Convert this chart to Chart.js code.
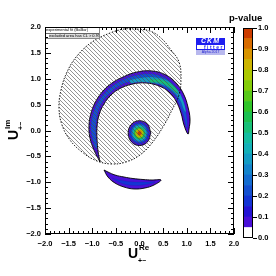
<!DOCTYPE html>
<html>
<head>
<meta charset="utf-8">
<script src="https://cdn.jsdelivr.net/npm/chart.js@4.4.0/dist/chart.umd.min.js"></script>
<style>
  html, body { margin: 0; padding: 0; background: #fff; }
  #wrap { position: relative; width: 276px; height: 276px; overflow: hidden; font-family: "Liberation Sans", Arial, sans-serif; }
  canvas { position: absolute; left: 0; top: 0; }
  .t { position: absolute; font-weight: bold; white-space: nowrap; line-height: 1; color: #000; }
  .ttl { position: absolute; width: 24px; height: 20px; }
  .ttl span { position: absolute; font-weight: bold; white-space: nowrap; }
</style>
</head>
<body>
<div id="wrap">
  <canvas id="main" width="276" height="276"></canvas>
  <canvas id="cbar" width="276" height="276"></canvas>

  <div class="t" style="left:229px;top:13px;font-size:9.5px;">p-value</div>

  <!-- axis titles -->
  <div class="ttl" style="left:128px;top:246px;">
    <span style="left:0;top:0;font-size:14px;line-height:14px;">U</span>
    <span style="left:11px;top:-2px;font-size:8px;line-height:8px;">Re</span>
    <span style="left:10px;top:11px;font-size:7px;line-height:7px;">+&minus;</span>
  </div>
  <div class="ttl" style="left:6px;top:140px;transform:rotate(-90deg);transform-origin:0 0;">
    <span style="left:0;top:0;font-size:14px;line-height:14px;">U</span>
    <span style="left:11px;top:-2px;font-size:8px;line-height:8px;">Im</span>
    <span style="left:10px;top:11px;font-size:7px;line-height:7px;">+&minus;</span>
  </div>

  <!-- small legend box -->
  <div style="position:absolute;left:46px;top:28px;width:53px;font-size:4px;line-height:4.5px;white-space:nowrap;overflow:hidden;border-right:0.5px solid #888;border-bottom:0.5px solid #888;">
    <div style="background:#fff;border-bottom:0.5px solid #666;">experimental fit (BaBar)</div>
    <div style="background:#ddd;margin-left:3px;">excluded area has CL &gt; 0.95</div>
  </div>

  <!-- CKMfitter logo -->
  <div style="position:absolute;left:196px;top:38px;width:29px;">
    <div style="background:#1e1ef0;height:6px;color:#fff;font:italic bold 7px/6px 'Liberation Sans';text-align:center;letter-spacing:1px;">CKM</div>
    <div style="background:#fff;border:1px solid #1e1ef0;height:4px;color:#1e1ef0;font:bold 5px/4px 'Liberation Sans';letter-spacing:1.5px;text-align:right;">fitter</div>
    <div style="background:#b8b8ee;height:5px;color:#2424d0;font:3.5px/5px 'Liberation Sans';text-align:center;">Alpha 2017</div>
  </div>
</div>

<script>
// p-value colour scale (bin edges and their colours)
const pEdges = [0, 0.05, 0.1, 0.15, 0.2, 0.25, 0.3, 0.35, 0.4, 0.45, 0.5, 0.55, 0.6, 0.65, 0.7, 0.75, 0.8, 0.85, 0.9, 0.95, 1.0];
const pTicks = [0, 0.1, 0.2, 0.3, 0.4, 0.5, 0.6, 0.7, 0.8, 0.9, 1.0];
const paletteColors = ['#ffffff', '#4a10d8', '#2414d4', '#1434d4', '#1450d0', '#146cd0', '#1484cc', '#149cc4',
  '#14b0b8', '#14bca0', '#18c078', '#1cc050', '#30c428', '#58c818', '#84cc08', '#acc800',
  '#ccb400', '#d89400', '#d86c00', '#cc3c00'];

// axis ticks
const xTicks = [-2, -1.5, -1, -0.5, 0, 0.5, 1, 1.5, 2];
const yTicks = [-2, -1.5, -1, -0.5, 0, 0.5, 1, 1.5, 2];

// excluded region (CL > 0.95), hatched
const excludedRegion = [[-0.053, 1.961], [0.222, 1.923], [0.455, 1.787], [0.667, 1.556], [0.836, 1.324], [0.878, 1.014],
  [0.836, 0.686], [0.688, 0.396], [0.497, 0.068], [0.265, -0.242], [0.011, -0.473], [-0.286, -0.609],
  [-0.582, -0.647], [-0.899, -0.589], [-1.217, -0.415], [-1.471, -0.184], [-1.640, 0.106], [-1.704, 0.435],
  [-1.661, 0.783], [-1.534, 1.130], [-1.323, 1.440], [-1.005, 1.710], [-0.624, 1.884], [-0.328, 1.961]];

// large arc: contour levels
const arcLevels = [0.07, 0.22, 0.36, 0.5];
const arcOuter = [[-0.836, -0.609], [-0.963, -0.377], [-1.048, -0.145], [-1.069, 0.087], [-1.026, 0.338], [-0.921, 0.570],
  [-0.772, 0.763], [-0.582, 0.918], [-0.349, 1.034], [-0.053, 1.130], [0.265, 1.150], [0.561, 1.072],
  [0.794, 0.899], [0.942, 0.686], [1.026, 0.454], [1.069, 0.222], [1.048, 0.029], [1.026, -0.068],
  [0.942, 0.106], [0.878, 0.338], [0.772, 0.570], [0.624, 0.744], [0.413, 0.860], [0.138, 0.918],
  [-0.138, 0.899], [-0.392, 0.821], [-0.603, 0.686], [-0.751, 0.512], [-0.857, 0.300], [-0.899, 0.068],
  [-0.899, -0.164], [-0.878, -0.396]];
const arcBand2 = [[-0.942, -0.338], [-1.005, -0.126], [-1.026, 0.087], [-0.984, 0.319], [-0.878, 0.551], [-0.730, 0.725],
  [-0.540, 0.879], [-0.307, 0.995], [-0.032, 1.072], [0.265, 1.092], [0.540, 1.014], [0.751, 0.860],
  [0.878, 0.647], [0.963, 0.435], [1.005, 0.222], [1.005, 0.048], [0.984, 0.087], [0.942, 0.261],
  [0.857, 0.473], [0.751, 0.667], [0.582, 0.802], [0.370, 0.899], [0.116, 0.957], [-0.138, 0.957],
  [-0.392, 0.879], [-0.603, 0.744], [-0.772, 0.570], [-0.878, 0.357], [-0.921, 0.106], [-0.921, -0.126],
  [-0.899, -0.338]];
const arcBand3 = [[-0.201, 0.976], [0.074, 1.024], [0.349, 1.024], [0.603, 0.957], [0.794, 0.802], [0.921, 0.589],
  [0.984, 0.357], [0.942, 0.396], [0.857, 0.589], [0.709, 0.763], [0.519, 0.870], [0.265, 0.918],
  [0.011, 0.937], [-0.201, 0.918]];
const arcBand4 = [[0.222, 0.995], [0.476, 0.976], [0.688, 0.879], [0.815, 0.744], [0.772, 0.725], [0.603, 0.860],
  [0.392, 0.928], [0.222, 0.937]];

// lower crescent
const lowLevels = [0.07, 0.17];
const lowOuter = [[-0.751, -0.763], [-0.667, -0.899], [-0.519, -1.015], [-0.328, -1.092], [-0.116, -1.130], [0.116, -1.111],
  [0.307, -1.053], [0.455, -0.957], [0.265, -0.957], [0.074, -0.947], [-0.138, -0.928], [-0.328, -0.899],
  [-0.519, -0.860], [-0.667, -0.802]];
const lowInner = [[-0.582, -0.918], [-0.370, -1.024], [-0.116, -1.063], [0.138, -1.043], [0.328, -0.995], [0.138, -0.995],
  [-0.116, -0.995], [-0.370, -0.966]];

// central peak, rings from outside to inside
const peakLevels = [0.07, 0.17, 0.28, 0.42, 0.58, 0.75, 0.88, 0.97];
const peakRings = [
  [[0.24, -0.05], [0.17, 0.12], [0, 0.19], [-0.17, 0.12], [-0.24, -0.05], [-0.17, -0.22], [0, -0.29], [0.17, -0.22]],
  [[0.205, -0.05], [0.145, 0.095], [0, 0.155], [-0.145, 0.095], [-0.205, -0.05], [-0.145, -0.195], [0, -0.255], [0.145, -0.195]],
  [[0.175, -0.05], [0.124, 0.074], [0, 0.125], [-0.124, 0.074], [-0.175, -0.05], [-0.124, -0.174], [0, -0.225], [0.124, -0.174]],
  [[0.15, -0.05], [0.106, 0.056], [0, 0.1], [-0.106, 0.056], [-0.15, -0.05], [-0.106, -0.156], [0, -0.2], [0.106, -0.156]],
  [[0.12, -0.05], [0.085, 0.035], [0, 0.07], [-0.085, 0.035], [-0.12, -0.05], [-0.085, -0.135], [0, -0.17], [0.085, -0.135]],
  [[0.09, -0.05], [0.064, 0.014], [0, 0.04], [-0.064, 0.014], [-0.09, -0.05], [-0.064, -0.114], [0, -0.14], [0.064, -0.114]],
  [[0.06, -0.05], [0.042, -0.008], [0, 0.01], [-0.042, -0.008], [-0.06, -0.05], [-0.042, -0.092], [0, -0.11], [0.042, -0.092]],
  [[0.035, -0.05], [0.025, -0.025], [0, -0.015], [-0.025, -0.025], [-0.035, -0.05], [-0.025, -0.075], [0, -0.085], [0.025, -0.075]]
];

function pColor(p) {
  return paletteColors[Math.min(paletteColors.length - 1, Math.floor(p / 0.05))];
}

function fmt(v) {
  return (v < -1e-9 ? '\u2212' : '') + Math.abs(v).toFixed(1);
}

// hatch pattern for the excluded region
const hatch = document.createElement('canvas');
hatch.width = 4; hatch.height = 4;
const hc = hatch.getContext('2d');
hc.strokeStyle = '#4a4a4a';
hc.lineWidth = 0.6;
hc.beginPath();
hc.moveTo(-1, -1); hc.lineTo(5, 5);
hc.moveTo(-1, 3); hc.lineTo(1, 5);
hc.moveTo(3, -1); hc.lineTo(5, 1);
hc.stroke();
const hatchFill = hc.createPattern(hatch, 'repeat');

function contour(points, p, edge) {
  return {
    data: points.concat([points[0]]).map(pt => ({ x: pt[0], y: pt[1] })),
    backgroundColor: pColor(p),
    borderColor: edge ? '#000' : 'rgba(0,0,0,0.15)',
    borderWidth: edge ? 0.9 : 0.4,
    fill: 'shape',
    tension: 0.4,
    pointRadius: 0
  };
}

// back to front
var layers = [];
layers.push(contour(arcOuter, arcLevels[0], true));
layers.push(contour(arcBand2, arcLevels[1], false));
layers.push(contour(arcBand3, arcLevels[2], false));
layers.push(contour(arcBand4, arcLevels[3], false));
layers.push(contour(lowOuter, lowLevels[0], true));
layers.push(contour(lowInner, lowLevels[1], false));
peakRings.forEach((ring, i) => layers.push(contour(ring, peakLevels[i], i === 0)));
layers.push({
  data: excludedRegion.concat([excludedRegion[0]]).map(pt => ({ x: pt[0], y: pt[1] })),
  backgroundColor: hatchFill,
  borderColor: '#000',
  borderWidth: 0.9,
  borderDash: [1.5, 1.5],
  fill: 'shape',
  tension: 0.4,
  pointRadius: 0
});
layers.forEach((d, i) => { d.order = -i; });

const tickFont = { family: 'Liberation Sans', size: 7.5, weight: 'bold' };

// frame with inward ticks on all four sides
const frameTicks = {
  id: 'frameTicks',
  afterDatasetsDraw(chart) {
    const { ctx, chartArea: a, scales: { x, y } } = chart;
    ctx.save();
    ctx.strokeStyle = '#000';
    ctx.lineWidth = 1;
    ctx.strokeRect(a.left + 0.5, a.top + 0.5, a.right - a.left - 1, a.bottom - a.top - 1);
    ctx.beginPath();
    for (let i = -20; i <= 20; i++) {
      const v = i / 10;
      const len = i % 5 === 0 ? 6 : 3;
      const px = Math.round(x.getPixelForValue(v)) + 0.5;
      ctx.moveTo(px, a.bottom); ctx.lineTo(px, a.bottom - len);
      ctx.moveTo(px, a.top); ctx.lineTo(px, a.top + len);
      const py = Math.round(y.getPixelForValue(v)) + 0.5;
      ctx.moveTo(a.left, py); ctx.lineTo(a.left + len, py);
      ctx.moveTo(a.right, py); ctx.lineTo(a.right - len, py);
    }
    ctx.stroke();
    ctx.restore();
  }
};

new Chart(document.getElementById('main'), {
  type: 'line',
  data: { datasets: layers },
  options: {
    responsive: false,
    animation: false,
    layout: { padding: { left: 0, top: 27, right: 42, bottom: 0 } },
    plugins: { legend: { display: false }, tooltip: { enabled: false } },
    scales: {
      x: {
        type: 'linear', min: -2, max: 2,
        grid: { display: false, drawTicks: false },
        border: { display: false },
        afterBuildTicks: s => { s.ticks = xTicks.map(v => ({ value: v })); },
        ticks: { font: tickFont, color: '#000', padding: 5, maxRotation: 0, autoSkip: false, callback: fmt },
        afterFit: s => { s.height = 42; }
      },
      y: {
        type: 'linear', min: -2, max: 2,
        grid: { display: false, drawTicks: false },
        border: { display: false },
        afterBuildTicks: s => { s.ticks = yTicks.map(v => ({ value: v })); },
        ticks: { font: tickFont, color: '#000', padding: 4, autoSkip: false, callback: fmt },
        afterFit: s => { s.width = 45; }
      }
    }
  },
  plugins: [frameTicks]
});

// colour bar
const barOutline = {
  id: 'barOutline',
  afterDatasetsDraw(chart) {
    const { ctx, chartArea: a } = chart;
    ctx.save();
    ctx.strokeStyle = '#000';
    ctx.lineWidth = 1;
    ctx.strokeRect(a.left + 0.5, a.top + 0.5, a.right - a.left - 1, a.bottom - a.top - 1);
    ctx.restore();
  }
};

var barSets = [];
for (let i = 0; i < paletteColors.length; i++) {
  barSets.push({ data: [[pEdges[i], pEdges[i + 1]]], backgroundColor: paletteColors[i] });
}

new Chart(document.getElementById('cbar'), {
  type: 'bar',
  data: { labels: ['p'], datasets: barSets },
  options: {
    responsive: false,
    animation: false,
    layout: { padding: { left: 243, top: 28, right: 0, bottom: 38 } },
    plugins: { legend: { display: false }, tooltip: { enabled: false } },
    datasets: { bar: { barPercentage: 1, categoryPercentage: 1, borderWidth: 0, grouped: false } },
    scales: {
      x: { display: false },
      y: {
        position: 'right', min: 0, max: 1,
        grid: { drawOnChartArea: false, tickLength: 4, color: '#000' },
        border: { display: false },
        afterBuildTicks: s => { s.ticks = pTicks.map(v => ({ value: v })); },
        ticks: { font: tickFont, color: '#000', padding: 1, callback: fmt },
        afterFit: s => { s.width = 23; }
      }
    }
  },
  plugins: [barOutline]
});
</script>
</body>
</html>
